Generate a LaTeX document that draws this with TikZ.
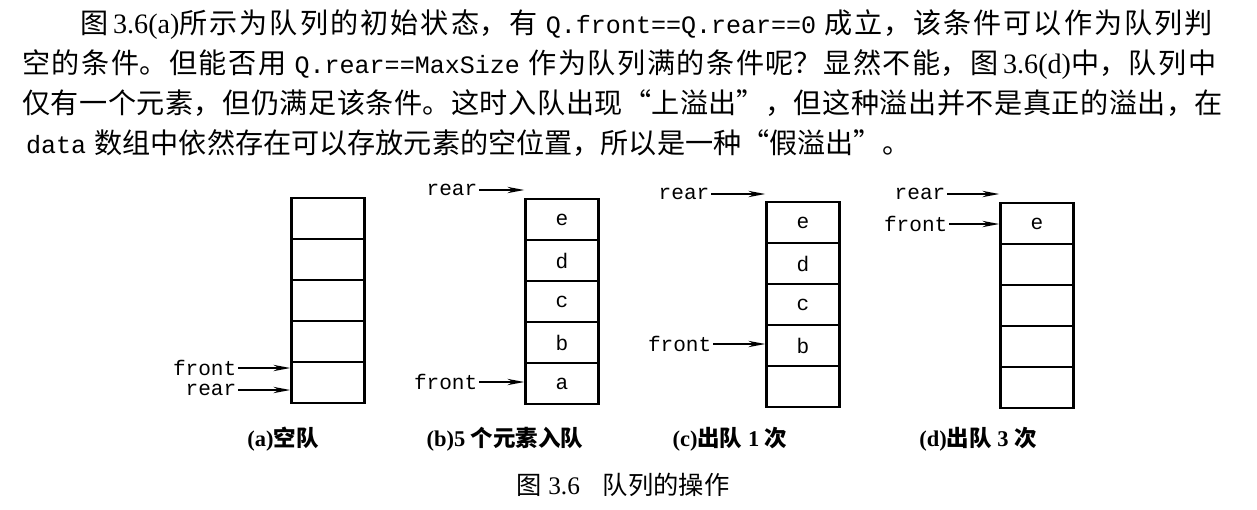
\documentclass[tikz,border=0pt]{standalone}
\usepackage{fontspec}
\setmainfont{Liberation Serif}
\setmonofont{Liberation Mono}
\newfontfamily\cjk{Noto Sans CJK SC}
\usetikzlibrary{arrows.meta}

\newcommand\codetext[1]{{\ttfamily\fontsize{17.8}{28.45}\selectfont\hspace{0.15em}#1\hspace{0.15em}}}

\begin{document}
\begin{tikzpicture}[x=0.025cm, y=-0.025cm,
  cell/.style={draw, line width=1.8pt, minimum width=1.825cm, minimum height=1.025cm, inner sep=0pt, font=\ttfamily\fontsize{15}{15}\selectfont},
  ptrlabel/.style={anchor=east, inner sep=1pt, font=\ttfamily\fontsize{15}{15}\selectfont},
  ptr/.style={-{Stealth[length=12pt,width=4.5pt]}, line width=1.1pt},
  subcap/.style={inner sep=0pt, font=\bfseries\fontsize{16}{16}\selectfont}]
\useasboundingbox (0,0) rectangle (1257,509);

\node[anchor=north west, text width=30.1cm, inner sep=0pt] (para) at (22,9) {%
  \cjk\fontsize{20}{28.45}\selectfont
  \XeTeXlinebreaklocale "zh"\XeTeXlinebreakskip=0pt plus 3pt\relax
  \tolerance=10000 \parindent=0pt
  {\parfillskip=0pt \hspace*{1.45cm}图 {\rmfamily 3.6(a)}所示为队列的初始状态，有 \codetext{Q.front==Q.rear==0} 成立，该条件可以作为队列判\par}
  {\parfillskip=0pt 空的条件。但能否用 \codetext{Q.rear==MaxSize} 作为队列满的条件呢？显然不能，图 {\rmfamily 3.6(d)}中，队列中\par}
  {\parfillskip=0pt 仅有一个元素，但仍满足该条件。这时入队出现“上溢出”，但这种溢出并不是真正的溢出，在\par}
  \codetext{data} 数组中依然存在可以存放元素的空位置，所以是一种“假溢出”。\par};

\foreach \q/\cx/\ty/\cellA/\cellB/\cellC/\cellD/\cellE in
  {a/328/198/{}/{}/{}/{}/{}, b/562/199/a/b/c/d/e, c/803/202/{}/b/c/d/e, d/1037/203/{}/{}/{}/{}/e} {
  \node[cell] (\q1) at (\cx,\ty+184.5) {\cellA};
  \node[cell] (\q2) at (\cx,\ty+143.5) {\cellB};
  \node[cell] (\q3) at (\cx,\ty+102.5) {\cellC};
  \node[cell] (\q4) at (\cx,\ty+61.5) {\cellD};
  \node[cell] (\q5) at (\cx,\ty+20.5) {\cellE};
}

\node[ptrlabel] (afront) at (238,368) {front};
\node[ptrlabel] (arear) at (238,390) {rear};
\draw[ptr] (afront) -- (afront -| a1.west);
\draw[ptr] (arear) -- (arear -| a1.west);

\node[ptrlabel] (brear) at (479,190) {rear};
\node[ptrlabel] (bfront) at (479,382) {front};
\draw[ptr] (brear) -- (brear -| b5.west);
\draw[ptr] (bfront) -- (bfront -| b1.west);

\node[ptrlabel] (crear) at (711,194) {rear};
\node[ptrlabel] (cfront) at (713,344) {front};
\draw[ptr] (crear) -- (crear -| c5.west);
\draw[ptr] (cfront) -- (cfront -| c2.west);

\node[ptrlabel] (drear) at (947,194) {rear};
\node[ptrlabel] (dfront) at (949,224) {front};
\draw[ptr] (drear) -- (drear -| d5.west);
\draw[ptr] (dfront) -- (dfront -| d5.west);

\node[subcap] (acap) at (283,439) {(a){\cjk 空队}};
\node[subcap] (bcap) at (505,439) {(b)5 {\cjk 个元素入队}};
\node[subcap] (ccap) at (730,439) {(c){\cjk 出队} 1 {\cjk 次}};
\node[subcap] (dcap) at (978,439) {(d){\cjk 出队} 3 {\cjk 次}};
\node[inner sep=0pt, font=\fontsize{18}{18}\selectfont] (figcap) at (623,485) {{\cjk 图} 3.6\hspace{0.9em}{\cjk 队列的操作}};
\end{tikzpicture}
\end{document}
